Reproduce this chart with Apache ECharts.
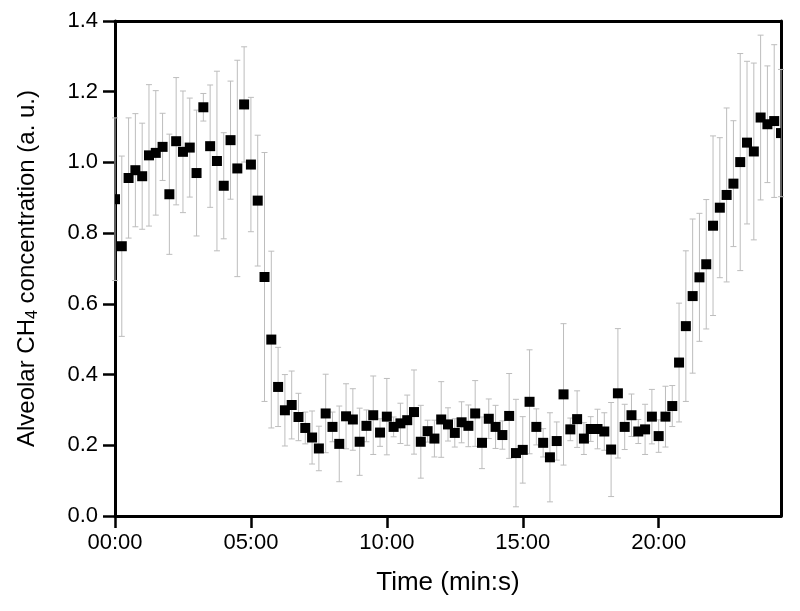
<!DOCTYPE html>
<html><head><meta charset="utf-8">
<script src="https://cdn.jsdelivr.net/npm/echarts@6/dist/echarts.min.js"></script>
<style>html,body{margin:0;padding:0;background:#fff}#c{width:800px;height:611px}</style>
</head><body><div id="c"></div>
<script>
// time in seconds
const timeSec = [0,15,30,45,60,75,90,105,120,135,150,165,180,195,210,225,240,255,270,285,300,315,330,345,360,375,390,405,420,435,450,465,480,495,510,525,540,555,570,585,600,615,630,645,660,675,690,705,720,735,750,765,780,795,810,825,840,855,870,885,900,915,930,945,960,975,990,1005,1020,1035,1050,1065,1080,1095,1110,1125,1140,1155,1170,1185,1200,1215,1230,1245,1260,1275,1290,1305,1320,1335,1350,1365,1380,1395,1410,1425,1440,1455,1470];
const concentration = [0.896,0.763,0.956,0.978,0.961,1.020,1.027,1.044,0.910,1.060,1.030,1.042,0.970,1.156,1.046,1.004,0.934,1.063,0.983,1.164,0.994,0.892,0.676,0.499,0.365,0.299,0.314,0.280,0.249,0.222,0.191,0.290,0.252,0.204,0.282,0.273,0.210,0.255,0.285,0.236,0.281,0.252,0.262,0.271,0.294,0.210,0.240,0.219,0.273,0.259,0.235,0.265,0.255,0.290,0.207,0.275,0.252,0.229,0.283,0.178,0.187,0.323,0.252,0.207,0.166,0.212,0.344,0.245,0.274,0.219,0.246,0.246,0.239,0.188,0.347,0.252,0.285,0.239,0.245,0.281,0.226,0.281,0.311,0.434,0.537,0.622,0.675,0.712,0.821,0.872,0.908,0.940,1.001,1.056,1.031,1.127,1.108,1.117,1.083];
const stdError = [0.23,0.255,0.17,0.16,0.15,0.20,0.176,0.095,0.17,0.18,0.172,0.14,0.178,0.039,0.173,0.254,0.15,0.167,0.306,0.163,0.19,0.185,0.352,0.25,0.112,0.101,0.096,0.067,0.045,0.075,0.063,0.111,0.042,0.107,0.092,0.087,0.095,0.045,0.111,0.039,0.108,0.028,0.057,0.071,0.119,0.103,0.031,0.052,0.107,0.047,0.04,0.058,0.059,0.093,0.073,0.056,0.061,0.04,0.12,0.152,0.094,0.147,0.051,0.04,0.126,0.054,0.20,0.032,0.08,0.045,0.035,0.056,0.053,0.133,0.183,0.064,0.06,0.034,0.071,0.077,0.046,0.086,0.058,0.168,0.213,0.218,0.181,0.183,0.254,0.198,0.246,0.178,0.307,0.23,0.25,0.233,0.165,0.216,0.18];
const xTickValues = [0,300,600,900,1200];
const xTickLabels = ['00:00','05:00','10:00','15:00','20:00'];
const yTickLabels = ['0.0','0.2','0.4','0.6','0.8','1.0','1.2','1.4'];

const FONT = 'Liberation Sans, Arial, sans-serif';
const points = timeSec.map((t, i) => [t, concentration[i], stdError[i]]);

const chart = echarts.init(document.getElementById('c'), null, {renderer: 'canvas'});
const axisLine = {show: true, onZero: false, lineStyle: {color: '#000', width: 3}};
chart.setOption({
  animation: false,
  backgroundColor: '#fff',
  grid: {left: 115, right: 19, top: 21, bottom: 95},
  xAxis: [{
    type: 'value', min: 0, max: 1470, position: 'bottom',
    axisLine: axisLine,
    axisTick: {show: true, inside: false, length: 12, lineStyle: {width: 2.5, color: '#000'}, customValues: xTickValues},
    axisLabel: {show: true, customValues: xTickValues, color: '#000', fontSize: 22, fontFamily: FONT, margin: 16,
      formatter: v => xTickLabels[xTickValues.indexOf(v)] || ''},
    splitLine: {show: false},
    name: 'Time (min:s)', nameLocation: 'middle', nameGap: 54,
    nameTextStyle: {color: '#000', fontSize: 26, fontFamily: FONT}
  }, {
    type: 'value', min: 0, max: 1470, position: 'top',
    axisLine: axisLine, axisTick: {show: false}, axisLabel: {show: false}, splitLine: {show: false}
  }],
  yAxis: [{
    type: 'value', min: 0, max: 1.4, interval: 0.2, position: 'left',
    axisLine: axisLine,
    axisTick: {show: true, inside: false, length: 12, lineStyle: {width: 2.5, color: '#000'}},
    axisLabel: {color: '#000', fontSize: 22, fontFamily: FONT, margin: 17,
      formatter: v => yTickLabels[Math.round(v / 0.2)]},
    splitLine: {show: false},
    name: 'Alveolar CH{sub|4} concentration (a. u.)', nameLocation: 'middle', nameGap: 74,
    nameTextStyle: {color: '#000', fontSize: 24, fontFamily: FONT,
      rich: {sub: {fontSize: 16, fontFamily: FONT, color: '#000', verticalAlign: 'bottom', padding: [12, 0, 0, 0]}}}
  }, {
    type: 'value', min: 0, max: 1.4, interval: 0.2, position: 'right',
    axisLine: axisLine, axisTick: {show: false}, axisLabel: {show: false}, splitLine: {show: false}
  }],
  series: [{
    type: 'custom',
    xAxisIndex: 0, yAxisIndex: 0,
    data: points,
    z: 1,
    renderItem: function (params, api) {
      const x = api.value(0), y = api.value(1), e = api.value(2);
      const top = api.coord([x, y + e]);
      const bot = api.coord([x, y - e]);
      const hw = 3;
      const st = {stroke: '#bdbdbd', lineWidth: 1};
      return {type: 'group', children: [
        {type: 'line', shape: {x1: top[0], y1: top[1], x2: bot[0], y2: bot[1]}, style: st},
        {type: 'line', shape: {x1: top[0] - hw, y1: top[1], x2: top[0] + hw, y2: top[1]}, style: st},
        {type: 'line', shape: {x1: bot[0] - hw, y1: bot[1], x2: bot[0] + hw, y2: bot[1]}, style: st}
      ]};
    }
  }, {
    type: 'custom',
    xAxisIndex: 0, yAxisIndex: 0,
    data: points,
    z: 3,
    renderItem: function (params, api) {
      const p = api.coord([api.value(0), api.value(1)]);
      const s = 10;
      const cs = params.coordSys;
      const r = echarts.graphic.clipRectByRect(
        {x: p[0] - s / 2, y: p[1] - s / 2, width: s, height: s},
        {x: cs.x, y: cs.y, width: cs.width, height: cs.height});
      return r && {type: 'rect', shape: r, style: {fill: '#000'}};
    }
  }]
});
</script>
</body></html>
